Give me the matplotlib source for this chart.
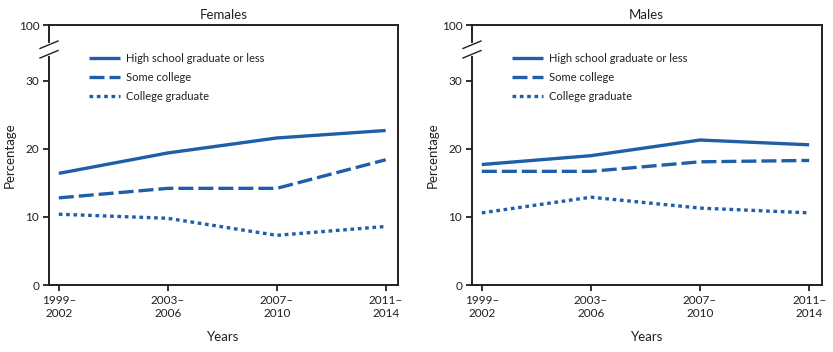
import matplotlib
matplotlib.use("Agg")
import matplotlib.pyplot as plt

plt.rcParams['font.family'] = ['Lato', 'DejaVu Sans']

periods = ["1999–\n2002", "2003–\n2006", "2007–\n2010", "2011–\n2014"]
series_names = ["High school graduate or less", "Some college", "College graduate"]

females_hs = [16.4, 19.4, 21.6, 22.7]
females_some = [12.8, 14.2, 14.2, 18.4]
females_grad = [10.4, 9.8, 7.3, 8.6]

males_hs = [17.7, 19.0, 21.3, 20.6]
males_some = [16.7, 16.7, 18.1, 18.3]
males_grad = [10.6, 12.9, 11.3, 10.6]

ytick_vals = [0, 10, 20, 30]
ytick_labels = ["0", "10", "20", "30", "100"]

COLOR = "#1f5fa8"
TXT = "#231f20"
W, H = 833, 352
fig = plt.figure(figsize=(W / 100, H / 100), dpi=100)

YTOP = 38.2
styles = [dict(ls="-"), dict(ls=(0, (4.5, 1.5))), dict(ls=(0, (1.1, 1.1)))]

def panel(left_px, right_px, title, data):
    ax = fig.add_axes([left_px / W, (H - 285) / H, (right_px - left_px) / W, 260 / H])
    x = list(range(len(periods)))
    for vals, name, st in zip(data, series_names, styles):
        ax.plot(x, vals, color=COLOR, lw=2.4, label=name, solid_capstyle="butt",
                dash_capstyle="butt", **st)
    ax.set_xlim(-0.09, 3.113)
    ax.set_ylim(0, YTOP)
    ax.set_yticks(ytick_vals + [YTOP])
    ax.set_yticklabels(ytick_labels)
    ax.set_xticks(x)
    ax.set_xticklabels(periods)
    ax.tick_params(axis="both", direction="out", length=4, width=1.3, labelsize=8.5,
                   colors=TXT, pad=3)
    for s in ax.spines.values():
        s.set_linewidth(1.4)
        s.set_color(TXT)
    ax.set_title(title, fontsize=9.5, pad=4, color=TXT)
    ax.set_ylabel("Percentage", fontsize=9.5, labelpad=2, color=TXT)
    ax.set_xlabel("Years", fontsize=9.5, labelpad=9, color=TXT)
    ax.legend(loc="upper left", bbox_to_anchor=(0.085, 0.93), frameon=False,
              fontsize=8.0, handlelength=2.8, handletextpad=0.55, labelspacing=0.7,
              labelcolor=TXT)
    # axis break
    tr = ax.get_yaxis_transform()
    ax.plot([0, 0], [33.9, 35.3], transform=tr, color="white", lw=3, clip_on=False, zorder=5)
    dx = 9 / (right_px - left_px)
    for yc in (33.9, 35.3):
        ax.plot([-dx, dx], [yc - 0.55, yc + 0.55], transform=tr, color=TXT, lw=1.0,
                clip_on=False, zorder=6)
    return ax

panel(49, 398, "Females", [females_hs, females_some, females_grad])
panel(472, 821.5, "Males", [males_hs, males_some, males_grad])

fig.savefig("out.png", dpi=100)
